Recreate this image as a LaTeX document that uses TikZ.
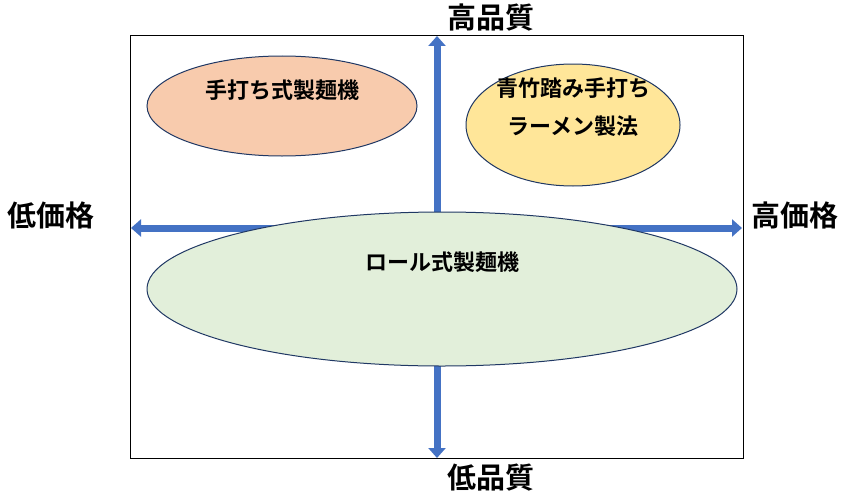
\documentclass[tikz,border=0pt]{standalone}
\usepackage{fontspec}
\setmainfont{Noto Sans CJK JP}[BoldFont={* Bold}]
\definecolor{axisblue}{RGB}{68,114,196}
\definecolor{edgeblue}{RGB}{32,56,100}
\definecolor{salmon}{RGB}{248,203,173}
\definecolor{butter}{RGB}{255,230,153}
\definecolor{mint}{RGB}{226,239,218}
\usetikzlibrary{arrows.meta,shapes.geometric}
\tikzset{
  axisarrow/.style={line width=7pt, axisblue, {Triangle[length=10pt,width=17pt]}-{Triangle[length=10pt,width=17pt]}},
  blob/.style={ellipse, draw=edgeblue, line width=1pt, inner sep=0pt},
  blobtext/.style={font=\bfseries\fontsize{22}{38}\selectfont, align=center},
  axislabel/.style={font=\bfseries\fontsize{29}{32}\selectfont}
}
\begin{document}
\begin{tikzpicture}[x=1pt,y=-1pt]
\useasboundingbox (0,0) rectangle (850,495);
\draw [thick] (130,35) rectangle (743,458);
%
\coordinate (top) at (437,36);
\coordinate (bottom) at (437,458);
\coordinate (left) at (131,228);
\coordinate (right) at (742,228);
\draw [axisarrow] (top) -- (bottom);
\draw [axisarrow] (left) -- (right);
%
\node [blob, fill=salmon, minimum width=270pt, minimum height=100pt] (handmachine) at (282,106) {};
\node [blobtext] (handtext) at (282,90) {手打ち式製麺機};
\node [blob, fill=butter, minimum width=214pt, minimum height=122pt] (aotake) at (573,125) {};
\node [blobtext] (aotaketext) at (573,107) {青竹踏み手打ち\\ラーメン製法};
\node [blob, fill=mint, minimum width=590pt, minimum height=154pt] (roll) at (442,289) {};
\node [blobtext] (rolltext) at (442,262) {ロール式製麺機};
%
\node [axislabel] (hq) at (491,18) {高品質};
\node [axislabel] (lq) at (491,478) {低品質};
\node [axislabel] (lp) at (51,215) {低価格};
\node [axislabel] (hp) at (795,215) {高価格};
\end{tikzpicture}
\end{document}
